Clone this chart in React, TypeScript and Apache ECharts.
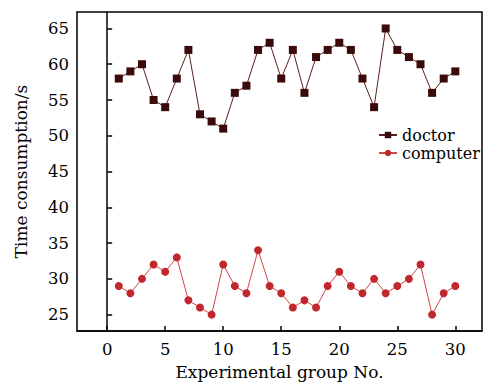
import React, { useEffect, useRef } from "react";
import * as echarts from "echarts";

const groups = Array.from({ length: 30 }, (_, i) => i + 1);
const doctor = [58, 59, 60, 55, 54, 58, 62, 53, 52, 51, 56, 57, 62, 63, 58, 62, 56, 61, 62, 63, 62, 58, 54, 65, 62, 61, 60, 56, 58, 59];
const computer = [29, 28, 30, 32, 31, 33, 27, 26, 25, 32, 29, 28, 34, 29, 28, 26, 27, 26, 29, 31, 29, 28, 30, 28, 29, 30, 32, 25, 28, 29];
const xTicks = [0, 5, 10, 15, 20, 25, 30];
const yTicks = [25, 30, 35, 40, 45, 50, 55, 60, 65];

const FONT = "'DejaVu Serif', serif";

export default function App() {
  const ref = useRef<HTMLDivElement>(null);
  useEffect(() => {
    if (!ref.current) return;
    const chart = echarts.init(ref.current, undefined, { renderer: "svg" });
    chart.setOption({
      animation: false,
      backgroundColor: "#ffffff",
      textStyle: { fontFamily: FONT, color: "#000" },
      grid: {
        left: 77,
        top: 12,
        right: 4,
        bottom: 45,
        show: true,
        borderColor: "#000",
        borderWidth: 1.5,
      },
      legend: {
        orient: "vertical",
        left: 378,
        top: 127,
        padding: 0,
        itemWidth: 18,
        itemHeight: 8,
        itemGap: 2,
        textStyle: { fontFamily: FONT, fontSize: 16, color: "#000" },
        data: ["doctor", "computer"],
      },
      xAxis: {
        type: "value",
        min: -2.6,
        max: 32.3,
        name: "Experimental group No.",
        nameLocation: "middle",
        nameGap: 29,
        nameTextStyle: { fontFamily: FONT, fontSize: 17, color: "#000" },
        axisLine: { show: true, lineStyle: { color: "#000", width: 1.5 } },
        axisTick: { show: true, inside: true, length: 5, customValues: xTicks, lineStyle: { color: "#000", width: 1.5 } },
        axisLabel: { customValues: xTicks, fontFamily: FONT, fontSize: 16.5, color: "#000", margin: 10 },
        splitLine: { show: false },
      },
      yAxis: {
        type: "value",
        min: 22.7,
        max: 67.3,
        name: "Time consumption/s",
        nameLocation: "middle",
        nameGap: 48,
        nameTextStyle: { fontFamily: FONT, fontSize: 17, color: "#000" },
        axisLine: { show: true, lineStyle: { color: "#000", width: 1.5 } },
        axisTick: { show: true, inside: true, length: 5, customValues: yTicks, lineStyle: { color: "#000", width: 1.5 } },
        axisLabel: { customValues: yTicks, fontFamily: FONT, fontSize: 16.5, color: "#000", margin: 8 },
        splitLine: { show: false },
      },
      series: [
        {
          name: "doctor",
          type: "line",
          data: groups.map((g, i) => [g, doctor[i]]),
          symbol: "rect",
          symbolSize: 8,
          itemStyle: { color: "#3b0a0a" },
          lineStyle: { color: "#5a1f1f", width: 1 },
        },
        {
          name: "computer",
          type: "line",
          data: groups.map((g, i) => [g, computer[i]]),
          symbol: "circle",
          symbolSize: 8,
          itemStyle: { color: "#c0282d" },
          lineStyle: { color: "#d0454a", width: 1 },
        },
      ],
    });
    return () => chart.dispose();
  }, []);
  return <div ref={ref} style={{ width: 486, height: 385, position: "absolute", left: 0, top: 0 }} />;
}
